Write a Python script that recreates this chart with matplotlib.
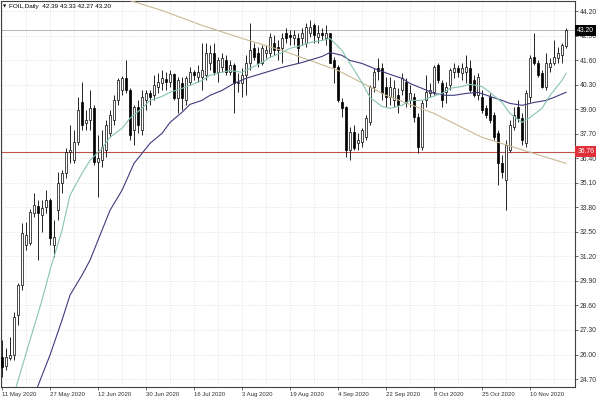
import matplotlib
matplotlib.use("Agg")
import matplotlib.pyplot as plt
import matplotlib.transforms as mtransforms
import numpy as np

# daily candles, FOIL, 11 May 2020 .. 17 Nov 2020
opens = [25.86, 25.39, 25.81, 25.97, 28.09, 29.68, 31.80, 31.90, 33.49, 33.86,
         33.39, 33.81, 34.18, 31.80, 33.65, 35.08, 35.61, 36.73, 36.30, 37.26,
         39.37, 38.26, 38.42, 39.06, 36.19, 36.30, 36.83, 37.73, 38.42, 39.48,
         40.01, 40.65, 40.01, 37.89, 39.11, 37.89, 39.48, 39.85, 39.75, 40.17,
         40.38, 40.59, 40.43, 40.86, 39.59, 40.38, 39.48, 40.43, 40.97, 40.70,
         40.70, 40.81, 41.44, 41.97, 40.97, 41.23, 41.60, 40.97, 41.34, 40.38,
         40.38, 40.81, 41.49, 42.24, 41.97, 41.49, 42.02, 42.02, 42.50, 42.29,
         42.24, 43.03, 42.93, 42.77, 42.77, 42.77, 42.50, 43.08, 43.46, 42.82,
         43.03, 42.77, 43.03, 41.60, 41.23, 39.37, 39.11, 36.83, 37.79, 37.20,
         37.26, 37.52, 38.31, 40.17, 41.18, 41.18, 40.17, 39.64, 39.48, 39.75,
         40.01, 40.43, 39.48, 39.64, 38.58, 36.99, 39.48, 39.85, 39.91, 41.34,
         40.38, 39.91, 40.28, 40.97, 41.18, 40.91, 40.97, 41.18, 40.54, 39.75,
         39.64, 39.06, 39.64, 38.69, 37.73, 36.14, 35.24, 36.83, 38.05, 39.11,
         38.53, 37.20, 39.64, 41.76, 41.44, 40.91, 40.17, 41.23, 41.44, 41.71,
         41.87, 42.39]
highs = [26.76, 26.34, 26.92, 28.25, 29.78, 32.96, 33.02, 33.70, 34.55, 34.18,
         34.18, 34.71, 34.29, 33.12, 35.66, 35.77, 36.94, 38.16, 37.89, 39.64,
         40.43, 38.95, 40.01, 39.22, 37.63, 37.89, 38.42, 38.95, 39.75, 40.65,
         40.75, 41.60, 40.12, 39.22, 39.48, 40.01, 40.01, 40.01, 40.81, 40.91,
         41.07, 40.97, 41.07, 40.91, 40.70, 40.70, 40.75, 41.23, 41.07, 41.34,
         42.50, 42.50, 42.40, 42.50, 41.76, 42.02, 41.87, 41.60, 41.44, 40.91,
         41.18, 41.87, 43.56, 42.55, 42.29, 42.40, 42.40, 43.03, 42.93, 42.66,
         43.08, 43.30, 43.19, 43.19, 43.03, 43.30, 43.61, 43.72, 43.56, 43.46,
         43.30, 43.46, 43.08, 41.76, 41.34, 39.59, 39.16, 38.05, 38.16, 37.73,
         38.00, 38.69, 40.28, 41.18, 41.71, 41.44, 40.70, 40.70, 40.54, 40.12,
         40.91, 40.65, 40.28, 39.85, 38.79, 39.48, 40.81, 40.38, 41.34, 41.44,
         40.54, 40.43, 41.18, 41.44, 41.34, 41.44, 41.87, 41.60, 40.81, 40.91,
         40.01, 39.22, 39.85, 38.85, 37.89, 36.57, 37.36, 38.42, 39.11, 39.48,
         38.79, 40.01, 41.87, 43.03, 41.60, 41.07, 42.02, 41.71, 42.66, 42.29,
         42.50, 43.33]
lows = [24.80, 25.17, 25.70, 25.70, 27.56, 29.41, 31.53, 31.80, 33.28, 31.00,
        32.49, 33.49, 31.80, 31.16, 33.12, 34.55, 35.35, 36.14, 36.14, 37.10,
        37.89, 37.89, 37.89, 36.04, 34.34, 35.93, 36.46, 37.52, 38.16, 39.22,
        39.75, 39.85, 37.36, 37.10, 37.73, 37.63, 38.95, 39.22, 39.48, 39.85,
        40.01, 40.01, 40.17, 39.48, 38.79, 38.95, 39.22, 40.28, 40.54, 40.43,
        40.01, 40.54, 41.07, 40.81, 40.43, 40.97, 40.81, 40.81, 38.79, 39.91,
        39.64, 39.75, 41.07, 41.60, 41.23, 41.34, 41.71, 41.76, 41.87, 41.60,
        41.49, 42.55, 42.40, 42.40, 41.44, 42.40, 42.29, 42.82, 42.50, 42.55,
        42.66, 42.40, 41.44, 40.38, 39.37, 38.58, 36.46, 36.30, 36.83, 36.83,
        36.99, 37.36, 38.16, 39.91, 40.54, 39.48, 39.11, 39.22, 39.11, 38.79,
        39.75, 39.11, 39.11, 38.31, 36.67, 36.83, 39.11, 39.64, 39.75, 40.38,
        39.11, 39.32, 40.01, 40.65, 40.70, 40.54, 40.38, 39.91, 39.64, 39.48,
        38.79, 38.53, 38.26, 37.36, 34.98, 35.35, 33.65, 36.73, 37.89, 38.31,
        37.10, 36.99, 39.37, 41.34, 40.70, 40.12, 40.01, 40.97, 41.34, 41.49,
        41.49, 42.27]
closes = [25.33, 25.86, 25.97, 27.98, 29.68, 32.43, 32.33, 33.55, 33.92, 33.49,
          33.76, 34.18, 32.17, 32.22, 35.08, 35.61, 36.73, 36.83, 37.26, 38.95,
          38.16, 38.42, 39.06, 36.19, 36.41, 36.99, 38.16, 38.69, 39.48, 40.54,
          40.65, 40.01, 37.63, 39.11, 38.16, 39.64, 39.85, 39.64, 40.28, 40.43,
          40.65, 40.43, 40.86, 39.59, 40.54, 39.59, 40.65, 40.97, 40.81, 40.97,
          41.07, 41.97, 41.97, 40.97, 41.60, 41.71, 40.97, 41.34, 40.38, 40.43,
          40.81, 41.49, 42.13, 41.76, 41.44, 42.24, 42.13, 42.82, 42.13, 42.13,
          42.77, 42.77, 42.82, 42.93, 42.24, 43.08, 43.35, 43.35, 42.93, 43.03,
          42.93, 43.03, 41.49, 41.23, 39.48, 39.06, 36.83, 37.79, 36.94, 37.36,
          37.89, 38.53, 40.17, 40.97, 41.02, 39.85, 39.64, 40.17, 40.12, 39.22,
          40.65, 39.32, 39.85, 38.58, 36.99, 39.32, 39.91, 40.01, 41.23, 40.54,
          39.48, 40.17, 41.07, 41.18, 40.97, 41.18, 41.23, 40.01, 39.75, 40.70,
          38.95, 38.69, 38.42, 37.52, 36.14, 35.66, 37.10, 38.16, 38.69, 38.53,
          37.36, 39.85, 41.71, 41.44, 40.81, 40.17, 41.49, 41.44, 41.76, 41.97,
          42.40, 43.20]

# moving averages as drawn on the chart (bar index -> value)
fast_ma_idx = [3, 7, 10, 12, 15, 17, 20, 22, 25, 27, 30, 32, 35, 37, 40, 42, 45, 47,
               50, 52, 55, 57, 60, 62, 65, 67, 70, 72, 75, 77, 80, 82, 85, 87, 90,
               92, 95, 97, 100, 102, 105, 107, 110, 112, 115, 117, 120, 122, 125,
               127, 130, 132, 135, 137, 140, 141]
fast_ma = [23.90, 26.76, 28.88, 30.47, 32.59, 34.45, 35.61, 36.30, 36.94, 37.52,
           38.00, 38.53, 39.06, 39.48, 39.69, 39.91, 40.12, 40.28, 40.54, 40.81,
           40.97, 41.07, 40.97, 41.18, 41.49, 41.76, 42.02, 42.24, 42.40, 42.55,
           42.66, 42.77, 42.13, 41.44, 40.43, 39.64, 39.16, 39.06, 39.22, 39.48,
           39.48, 39.64, 39.85, 40.12, 40.22, 40.33, 40.22, 39.91, 39.37, 38.79,
           38.31, 38.58, 39.06, 39.75, 40.54, 40.91]
slow_ma_idx = [8, 12, 15, 17, 20, 22, 25, 27, 30, 33, 35, 37, 40, 42, 45, 47, 50,
               52, 55, 58, 61, 65, 70, 75, 80, 82, 85, 87, 90, 93, 97, 100, 102,
               105, 108, 111, 113, 116, 119, 122, 125, 127, 130, 133, 136, 138, 141]
slow_ma = [23.80, 25.97, 27.82, 29.15, 30.21, 31.00, 32.59, 33.65, 34.71, 36.14,
           36.67, 37.20, 37.73, 38.31, 38.85, 39.27, 39.48, 39.75, 40.01, 40.38,
           40.65, 40.91, 41.23, 41.49, 41.81, 42.02, 41.87, 41.60, 41.44, 41.18,
           40.86, 40.65, 40.38, 40.12, 39.85, 39.75, 39.75, 39.85, 39.91, 39.69,
           39.48, 39.32, 39.22, 39.37, 39.48, 39.64, 39.91]
long_ma_idx = [24, 32, 40, 50, 60, 70, 84, 96, 108, 120, 132, 141]
long_ma = [45.40, 44.78, 44.25, 43.46, 42.77, 42.13, 41.07, 39.75, 38.79, 37.52,
           36.73, 36.14]

level = 36.76
date_labels = ['11 May 2020', '27 May 2020', '12 Jun 2020', '30 Jun 2020',
               '16 Jul 2020', '3 Aug 2020', '19 Aug 2020', '4 Sep 2020',
               '22 Sep 2020', '8 Oct 2020', '25 Oct 2020', '10 Nov 2020']
price_ticks = [24.70, 26.00, 27.30, 28.60, 29.90, 31.20, 32.50, 33.80, 35.10,
               36.40, 37.70, 39.00, 40.30, 41.60, 42.90, 44.20]

plt.rcParams['font.family'] = ['Liberation Sans', 'DejaVu Sans']

fig = plt.figure(figsize=(6, 4), dpi=100)
fig.patch.set_facecolor('white')
ax = fig.add_axes([1 / 600, 13 / 400, 574 / 600, 386.5 / 400])

n = len(closes)
idx = np.arange(n)
o = np.array(opens)
c = np.array(closes)

# wicks then bodies
ax.vlines(idx, lows, highs, color='black', linewidth=0.6, zorder=2)
up = c >= o
bottoms = np.minimum(o, c)
heights = np.maximum(np.abs(c - o), 0.02)
ax.bar(idx[up], heights[up], bottom=bottoms[up], width=0.72,
       facecolor='white', edgecolor='black', linewidth=0.5, zorder=3)
ax.bar(idx[~up], heights[~up], bottom=bottoms[~up], width=0.72,
       facecolor='black', edgecolor='black', linewidth=0.5, zorder=3)

# indicators
ax.plot(long_ma_idx, long_ma, color='#cbb994', linewidth=0.8, zorder=4)
ax.plot(slow_ma_idx, slow_ma, color='#3e3c7c', linewidth=0.8, zorder=4)
ax.plot(fast_ma_idx, fast_ma, color='#86c4b4', linewidth=0.8, zorder=4)

# horizontal lines
ax.axhline(level, color='#c0504a', linewidth=0.8, zorder=1)
ax.axhline(closes[-1], color='#a8a8a8', linewidth=0.6, zorder=1)

ax.set_xlim(-0.25, 143.25)
ax.set_ylim(24.276, 44.78)

# axes, ticks, grid
ax.yaxis.tick_right()
ax.set_yticks(price_ticks)
ax.set_yticklabels(['%.2f' % v for v in price_ticks], fontsize=4.9, color='#303030')
ax.set_xticks(range(0, n, 12))
ax.set_xticklabels(date_labels, fontsize=4.3, color='#303030', ha='left')
ax.set_xticks(range(0, n, 6), minor=True)
ax.tick_params(axis='both', which='major', length=2, width=0.5, pad=1.5, colors='#303030')
ax.tick_params(axis='x', which='minor', length=0)
ax.grid(axis='y', color='#d6d6d6', linestyle=(0, (1, 1.5)), linewidth=0.5, zorder=0)
ax.grid(axis='x', which='both', color='#d6d6d6', linestyle=(0, (1, 1.5)), linewidth=0.5, zorder=0)
ax.set_axisbelow(True)
for s in ax.spines.values():
    s.set_color('#404040')
    s.set_linewidth(0.8)

# price labels on the right axis
trans = mtransforms.blended_transform_factory(ax.transAxes, ax.transData)
ax.text(1.004, level, '%.2f' % level, transform=trans, fontsize=4.9, color='white',
        va='center', ha='left', clip_on=False,
        bbox=dict(boxstyle='square,pad=0.3', facecolor='#e0303a', edgecolor='none'))
ax.text(1.004, closes[-1], '%.2f' % closes[-1], transform=trans, fontsize=4.9,
        color='white', va='center', ha='left', clip_on=False,
        bbox=dict(boxstyle='square,pad=0.3', facecolor='black', edgecolor='none'))

# header
fig.text(3 / 600, 1 - 6.5 / 400, '\u25bc', fontsize=3, color='black', va='center',
         family=['DejaVu Sans'])
fig.text(9 / 600, 1 - 6.5 / 400, 'FOIL,Daily  %.2f %.2f %.2f %.2f'
         % (opens[-1], highs[-1], lows[-1], closes[-1]),
         fontsize=4.6, color='black', va='center')

fig.savefig('out.png', dpi=100)
